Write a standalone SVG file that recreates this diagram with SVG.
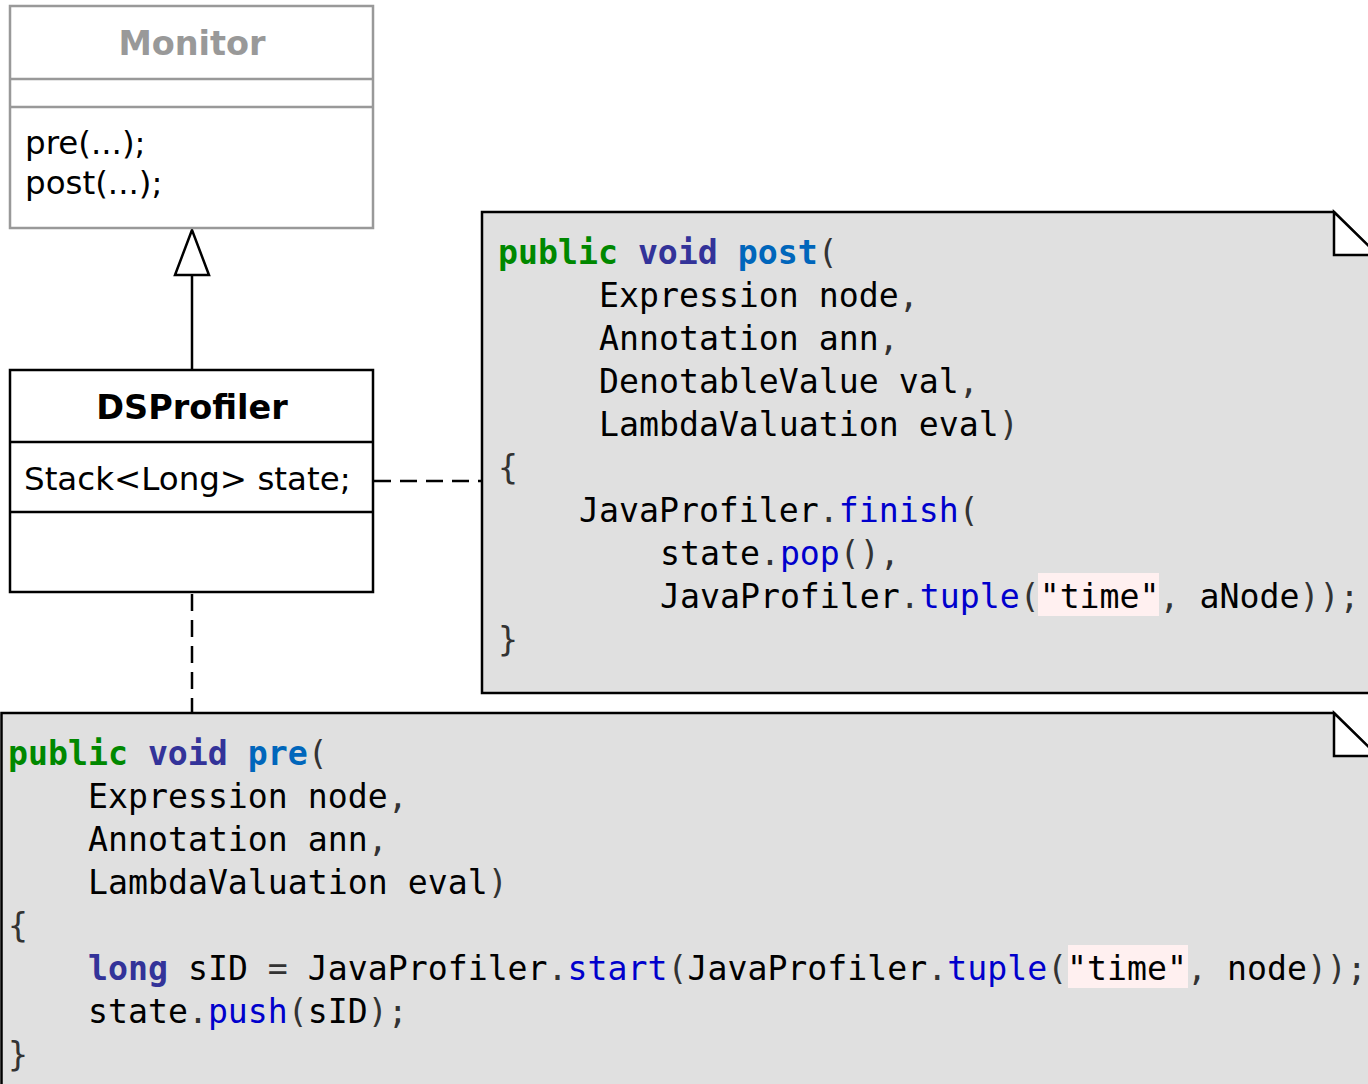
<svg xmlns="http://www.w3.org/2000/svg" width="1368" height="1084" viewBox="0 0 1368 1084">
<style>
.c{font-family:"DejaVu Sans Mono",monospace;font-size:33.2px;fill:#000}
.k{fill:#008800;font-weight:bold}
.t{fill:#333399;font-weight:bold}
.f{fill:#0066bb;font-weight:bold}
.m{fill:#0000cc}
.p{fill:#333}
.u{font-family:"DejaVu Sans",sans-serif;font-size:32.5px;fill:#000}
.b{font-weight:bold;font-size:33.5px}
.note{fill:#e0e0e0;stroke:#000;stroke-width:2.5}
.fold{fill:#fff;stroke:#000;stroke-width:2.5}
.hl{fill:#fff0f0}
.dash{fill:none;stroke:#000;stroke-width:2.5;stroke-dasharray:17 9}
</style>
<rect width="1368" height="1084" fill="#fff"/>
<g id="connectors">
<line x1="192" y1="370" x2="192" y2="275" stroke="#000" stroke-width="2.5"/>
<polygon points="192,230 175,275 209,275" fill="#fff" stroke="#000" stroke-width="2.5"/>
<line class="dash" x1="374" y1="481" x2="482" y2="481"/>
<line class="dash" x1="192" y1="594" x2="192" y2="713"/>
</g>
<g id="monitor">
<rect x="10" y="6" width="363" height="222" fill="#fff" stroke="#999" stroke-width="2.5"/>
<line x1="10" y1="79" x2="373" y2="79" stroke="#999" stroke-width="2.5"/>
<line x1="10" y1="107" x2="373" y2="107" stroke="#999" stroke-width="2.5"/>
<text class="u b" x="192" y="55" text-anchor="middle" style="fill:#999">Monitor</text>
<text class="u" x="25" y="154">pre(...);</text>
<text class="u" x="25" y="194">post(...);</text>
</g>
<g id="dsprofiler">
<rect x="10" y="370" width="363" height="222" fill="#fff" stroke="#000" stroke-width="2.5"/>
<line x1="10" y1="442" x2="373" y2="442" stroke="#000" stroke-width="2.5"/>
<line x1="10" y1="512" x2="373" y2="512" stroke="#000" stroke-width="2.5"/>
<text class="u b" x="192" y="419" text-anchor="middle">DSProfiler</text>
<text class="u" x="24" y="490">Stack&lt;Long&gt; state;</text>
</g>
<g id="note-post">
<path class="note" d="M482,212 H1334 L1378,256 V693 H482 Z"/>
<polygon class="fold" points="1334,212 1334,255 1378,255"/>
<rect class="hl" x="1038" y="573" width="121" height="43"/>
<text class="c" x="498" y="264"><tspan class="k">public</tspan> <tspan class="t">void</tspan> <tspan class="f">post</tspan><tspan class="p">(</tspan></text>
<text class="c" x="599" y="307">Expression node<tspan class="p">,</tspan></text>
<text class="c" x="599" y="350">Annotation ann<tspan class="p">,</tspan></text>
<text class="c" x="599" y="393">DenotableValue val<tspan class="p">,</tspan></text>
<text class="c" x="599" y="436">LambdaValuation eval<tspan class="p">)</tspan></text>
<text class="c p" x="498" y="479">{</text>
<text class="c" x="579" y="522">JavaProfiler<tspan class="p">.</tspan><tspan class="m">finish</tspan><tspan class="p">(</tspan></text>
<text class="c" x="660" y="565">state<tspan class="p">.</tspan><tspan class="m">pop</tspan><tspan class="p">(),</tspan></text>
<text class="c" x="660" y="608">JavaProfiler<tspan class="p">.</tspan><tspan class="m">tuple</tspan><tspan class="p">(</tspan>"time"<tspan class="p">,</tspan> aNode<tspan class="p">));</tspan></text>
<text class="c p" x="498" y="651">}</text>
</g>
<g id="note-pre">
<path class="note" d="M1.5,713 H1334 L1378,757 V1090 H1.5 Z"/>
<polygon class="fold" points="1334,713 1334,756 1378,756"/>
<rect class="hl" x="1068" y="945" width="120" height="43"/>
<text class="c" x="8" y="765"><tspan class="k">public</tspan> <tspan class="t">void</tspan> <tspan class="f">pre</tspan><tspan class="p">(</tspan></text>
<text class="c" x="88" y="808">Expression node<tspan class="p">,</tspan></text>
<text class="c" x="88" y="851">Annotation ann<tspan class="p">,</tspan></text>
<text class="c" x="88" y="894">LambdaValuation eval<tspan class="p">)</tspan></text>
<text class="c p" x="8" y="937">{</text>
<text class="c" x="88" y="980"><tspan class="t">long</tspan> sID <tspan class="p">=</tspan> JavaProfiler<tspan class="p">.</tspan><tspan class="m">start</tspan><tspan class="p">(</tspan>JavaProfiler<tspan class="p">.</tspan><tspan class="m">tuple</tspan><tspan class="p">(</tspan>"time"<tspan class="p">,</tspan> node<tspan class="p">));</tspan></text>
<text class="c" x="88" y="1023">state<tspan class="p">.</tspan><tspan class="m">push</tspan><tspan class="p">(</tspan>sID<tspan class="p">);</tspan></text>
<text class="c p" x="8" y="1066">}</text>
</g>
</svg>
